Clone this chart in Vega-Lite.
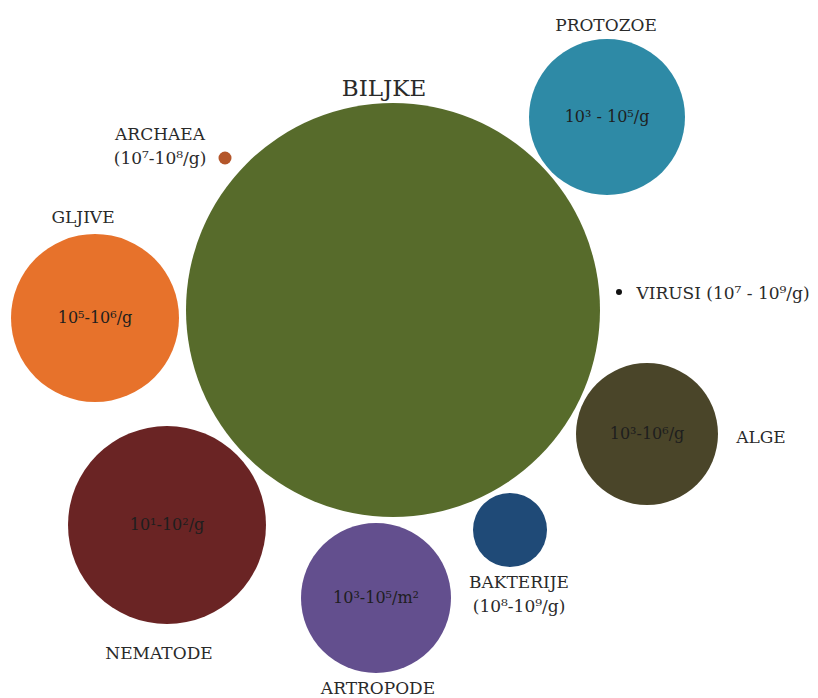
{
  "$schema": "https://vega.github.io/schema/vega-lite/v6.json",
  "width": 818,
  "height": 698,
  "padding": 0,
  "autosize": {"type": "none"},
  "background": "white",
  "config": {"view": {"stroke": null}},
  "datasets": {
    "circles": [
      {"group": "BILJKE", "x": 393, "y": 310, "d": 414, "density": ""},
      {"group": "PROTOZOE", "x": 607, "y": 117, "d": 156, "density": "10³ - 10⁵/g"},
      {"group": "ARCHAEA", "x": 225, "y": 158, "d": 13, "density": ""},
      {"group": "GLJIVE", "x": 95, "y": 318, "d": 168, "density": "10⁵-10⁶/g"},
      {"group": "VIRUSI", "x": 619, "y": 292, "d": 6, "density": ""},
      {"group": "ALGE", "x": 647, "y": 434, "d": 142, "density": "10³-10⁶/g"},
      {"group": "BAKTERIJE", "x": 510, "y": 530, "d": 74, "density": ""},
      {"group": "ARTROPODE", "x": 376, "y": 598, "d": 150, "density": "10³-10⁵/m²"},
      {"group": "NEMATODE", "x": 167, "y": 525, "d": 198, "density": "10¹-10²/g"}
    ],
    "labels": [
      {"text": "BILJKE", "lx": 384, "ly": 89, "kind": "big"},
      {"text": "PROTOZOE", "lx": 606, "ly": 26, "kind": "normal"},
      {"text": "ARCHAEA\n(10⁷-10⁸/g)", "lx": 160, "ly": 135, "kind": "normal"},
      {"text": "GLJIVE", "lx": 83, "ly": 218, "kind": "normal"},
      {"text": "VIRUSI (10⁷ - 10⁹/g)", "lx": 723, "ly": 294, "kind": "normal"},
      {"text": "ALGE", "lx": 761, "ly": 438, "kind": "normal"},
      {"text": "BAKTERIJE\n(10⁸-10⁹/g)", "lx": 519, "ly": 583, "kind": "normal"},
      {"text": "ARTROPODE", "lx": 378, "ly": 689, "kind": "normal"},
      {"text": "NEMATODE", "lx": 159, "ly": 654, "kind": "normal"}
    ]
  },
  "layer": [
    {
      "data": {"name": "circles"},
      "mark": {"type": "point", "shape": "circle", "filled": true, "opacity": 1, "strokeWidth": 0},
      "encoding": {
        "x": {"field": "x", "type": "quantitative", "scale": {"domain": [0, 818]}, "axis": null},
        "y": {"field": "y", "type": "quantitative", "scale": {"domain": [698, 0]}, "axis": null},
        "size": {"field": "d", "type": "quantitative", "scale": {"type": "pow", "exponent": 2, "domain": [0, 1000], "range": [0, 1000000]}, "legend": null},
        "color": {
          "field": "group", "type": "nominal", "legend": null,
          "scale": {
            "domain": ["BILJKE", "PROTOZOE", "ARCHAEA", "GLJIVE", "VIRUSI", "ALGE", "BAKTERIJE", "ARTROPODE", "NEMATODE"],
            "range": ["#576b2b", "#2e8aa6", "#b4562a", "#e7722b", "#111111", "#4a4529", "#1f4a77", "#634f8e", "#6a2424"]
          }
        }
      }
    },
    {
      "data": {"name": "circles"},
      "mark": {"type": "text", "font": "DejaVu Serif", "fontSize": 16, "color": "#1e1e1e", "baseline": "middle"},
      "encoding": {
        "x": {"field": "x", "type": "quantitative", "scale": {"domain": [0, 818]}, "axis": null},
        "y": {"field": "y", "type": "quantitative", "scale": {"domain": [698, 0]}, "axis": null},
        "text": {"field": "density"}
      }
    },
    {
      "data": {"name": "labels"},
      "transform": [{"filter": "datum.kind == 'normal'"}],
      "mark": {"type": "text", "font": "DejaVu Serif", "fontSize": 17, "color": "#2a2a2a", "baseline": "middle", "lineBreak": "\n", "lineHeight": 24},
      "encoding": {
        "x": {"field": "lx", "type": "quantitative", "scale": {"domain": [0, 818]}, "axis": null},
        "y": {"field": "ly", "type": "quantitative", "scale": {"domain": [698, 0]}, "axis": null},
        "text": {"field": "text"}
      }
    },
    {
      "data": {"name": "labels"},
      "transform": [{"filter": "datum.kind == 'big'"}],
      "mark": {"type": "text", "font": "DejaVu Serif", "fontSize": 23, "color": "#2a2a2a", "baseline": "middle"},
      "encoding": {
        "x": {"field": "lx", "type": "quantitative", "scale": {"domain": [0, 818]}, "axis": null},
        "y": {"field": "ly", "type": "quantitative", "scale": {"domain": [698, 0]}, "axis": null},
        "text": {"field": "text"}
      }
    }
  ]
}
